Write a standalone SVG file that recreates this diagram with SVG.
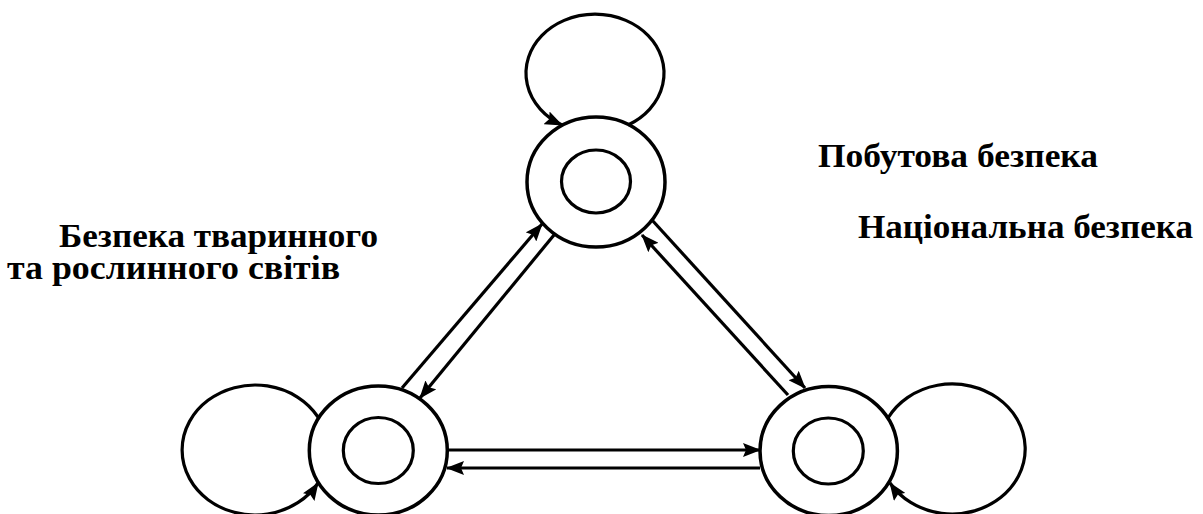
<svg xmlns="http://www.w3.org/2000/svg" width="1203" height="514" viewBox="0 0 1203 514">
<defs>
<marker id="arr" markerUnits="userSpaceOnUse" viewBox="0 0 18 14" markerWidth="18" markerHeight="14" refX="17" refY="7" orient="auto">
<path d="M0,0 L18,7 L0,14 L3,7 Z" fill="#000"/>
</marker>
<style>
.ring{fill:none;stroke:#000;stroke-width:3.5}
.inner{fill:none;stroke:#000;stroke-width:3.2}
.edge{fill:none;stroke:#000;stroke-width:3.2}
</style>
</defs>
<rect width="1203" height="514" fill="#fff"/>
<g id="connectors">
<path class="edge" d="M628,125 A69,59 0 1 0 562,125" marker-end="url(#arr)"/>
<path class="edge" d="M318,417 A73,65 0 1 0 318,483" marker-end="url(#arr)"/>
<path class="edge" d="M888,418 A73,65 0 1 1 890,483" marker-end="url(#arr)"/>
<path class="edge" d="M402,388 L542,224" marker-end="url(#arr)"/>
<path class="edge" d="M554,235 L420,398" marker-end="url(#arr)"/>
<path class="edge" d="M788,395 L642,235" marker-end="url(#arr)"/>
<path class="edge" d="M652,220 L805,388" marker-end="url(#arr)"/>
<path class="edge" d="M447,450 L760,450" marker-end="url(#arr)"/>
<path class="edge" d="M760,468 L447,468" marker-end="url(#arr)"/>
</g>
<g id="node-top">
<ellipse class="ring" cx="596" cy="182" rx="69" ry="65"/>
<ellipse class="inner" cx="596" cy="181.5" rx="34.5" ry="31.5"/>
</g>
<g id="node-left">
<ellipse class="ring" cx="378.3" cy="450.5" rx="69" ry="64.5"/>
<ellipse class="inner" cx="378.3" cy="450.5" rx="35" ry="33"/>
</g>
<g id="node-right">
<ellipse class="ring" cx="828.7" cy="451" rx="68.7" ry="64.5"/>
<ellipse class="inner" cx="828.3" cy="451" rx="35" ry="33"/>
</g>
<g id="labels" font-family="'Liberation Serif', 'Times New Roman', serif" font-weight="700" font-size="33" fill="#000">
<text x="818" y="167" textLength="280" lengthAdjust="spacingAndGlyphs">Побутова безпека</text>
<text x="858" y="238" textLength="335" lengthAdjust="spacingAndGlyphs">Національна безпека</text>
<text x="59" y="247" textLength="319" lengthAdjust="spacingAndGlyphs">Безпека тваринного</text>
<text x="7" y="279" textLength="333" lengthAdjust="spacingAndGlyphs">та рослинного світів</text>
</g>
</svg>
